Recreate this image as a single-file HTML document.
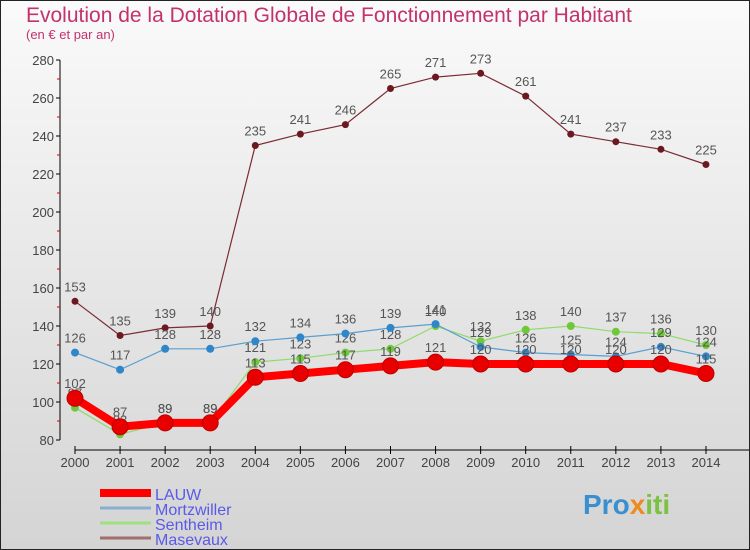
<!DOCTYPE html>
<html><head><meta charset="utf-8"><style>
body{margin:0}
#c{width:750px;height:550px;position:relative;background:linear-gradient(#fafafa,#d4d4d4);border:1px solid #222;box-sizing:border-box;overflow:hidden;font-family:"Liberation Sans",sans-serif}
</style></head><body>
<div id="c">
<svg id="s" width="750" height="550" style="position:absolute;left:-1px;top:-1px">
<text x="26" y="22" font-size="21" fill="#c2336b">Evolution de la Dotation Globale de Fonctionnement par Habitant</text>
<text x="26" y="39" font-size="13" fill="#c2336b">(en € et par an)</text>
<g id="axes"></g><g id="series"></g><g id="legend"></g>
<text x="583" y="514" font-size="28" font-weight="bold" fill="#3a8fd0">Pro<tspan fill="#f08a1e">x</tspan><tspan fill="#7cc242">iti</tspan></text>
</svg>
</div>
<script>
const years=[2000,2001,2002,2003,2004,2005,2006,2007,2008,2009,2010,2011,2012,2013,2014];
const lauw=[102,87,89,89,113,115,117,119,121,120,120,120,120,120,115];
const mortzwiller=[126,117,128,128,132,134,136,139,141,129,126,125,124,129,124];
const sentheim=[97,83,89,89,121,123,126,128,140,132,138,140,137,136,130];
const masevaux=[153,135,139,140,235,241,246,265,271,273,261,241,237,233,225];
const yTicks=[80,100,120,140,160,180,200,220,240,260,280];
const NS="http://www.w3.org/2000/svg";
const X=i=>75+i*45.07, Y=v=>440-(v-80)*1.9;
function mk(t,a,p){const e=document.createElementNS(NS,t);for(const k in a)e.setAttribute(k,a[k]);p.appendChild(e);return e;}
const ax=document.getElementById('axes');
let l=mk('line',{x1:60,y1:60,x2:60,y2:440,stroke:'#000'},ax);


l=mk('line',{x1:75,y1:450,x2:750,y2:450,stroke:'#000'},ax);


yTicks.forEach((v,i)=>{mk('line',{x1:56,y1:Y(v),x2:60,y2:Y(v),stroke:'#000'},ax);
if(i<yTicks.length-1)mk('line',{x1:57,y1:Y(v+10),x2:60,y2:Y(v+10),stroke:'#d00'},ax);
const t=mk('text',{x:54,y:Y(v)+5,'font-size':13,fill:'#444','text-anchor':'end'},ax);t.textContent=v;

});
years.forEach((y,i)=>{mk('line',{x1:X(i),y1:446,x2:X(i),y2:454,stroke:'#000'},ax);
const t=mk('text',{x:X(i),y:467,'font-size':13,fill:'#444','text-anchor':'middle'},ax);t.textContent=y;

});
const ser=[
 {n:'Masevaux',d:masevaux,c:'#7a2b33',f:'#6b1820',w:1.2,r:3.5},
 {n:'Sentheim',d:sentheim,c:'#8fdc6a',f:'#6fc83a',w:1.2,r:4},
 {n:'Mortzwiller',d:mortzwiller,c:'#5a9fd0',f:'#2f86c8',w:1.2,r:4},
 {n:'LAUW',d:lauw,c:'#f00',f:'#e80000',w:8,r:8}];
const sg=document.getElementById('series');
ser.forEach(s=>{const g=mk('g',{},sg);


const p=mk('polyline',{points:s.d.map((v,i)=>X(i)+','+Y(v)).join(' '),fill:'none',stroke:s.c,'stroke-width':s.w},g);


s.d.forEach((v,i)=>{const c=mk('circle',{cx:X(i),cy:Y(v),r:s.r,fill:s.f,stroke:'#b00','stroke-width':s.n=='LAUW'?1:0},g);


const t=mk('text',{x:X(i),y:Y(v)-10,'font-size':13,fill:'#555','text-anchor':'middle'},g);t.textContent=v;

});});
const lg=document.getElementById('legend');
[['LAUW','#f00',8],['Mortzwiller','#88aed0',3],['Sentheim','#a0e080',3],['Masevaux','#a07070',3]].forEach((e,i)=>{
const y=493+i*15;const g=mk('g',{},lg);


mk('line',{x1:100,y1:y,x2:151,y2:y,stroke:e[1],'stroke-width':e[2]},g);
const t=mk('text',{x:155,y:y+7,'font-size':16,fill:'#5a5ae8'},g);t.textContent=e[0];});
</script>
</body></html>
